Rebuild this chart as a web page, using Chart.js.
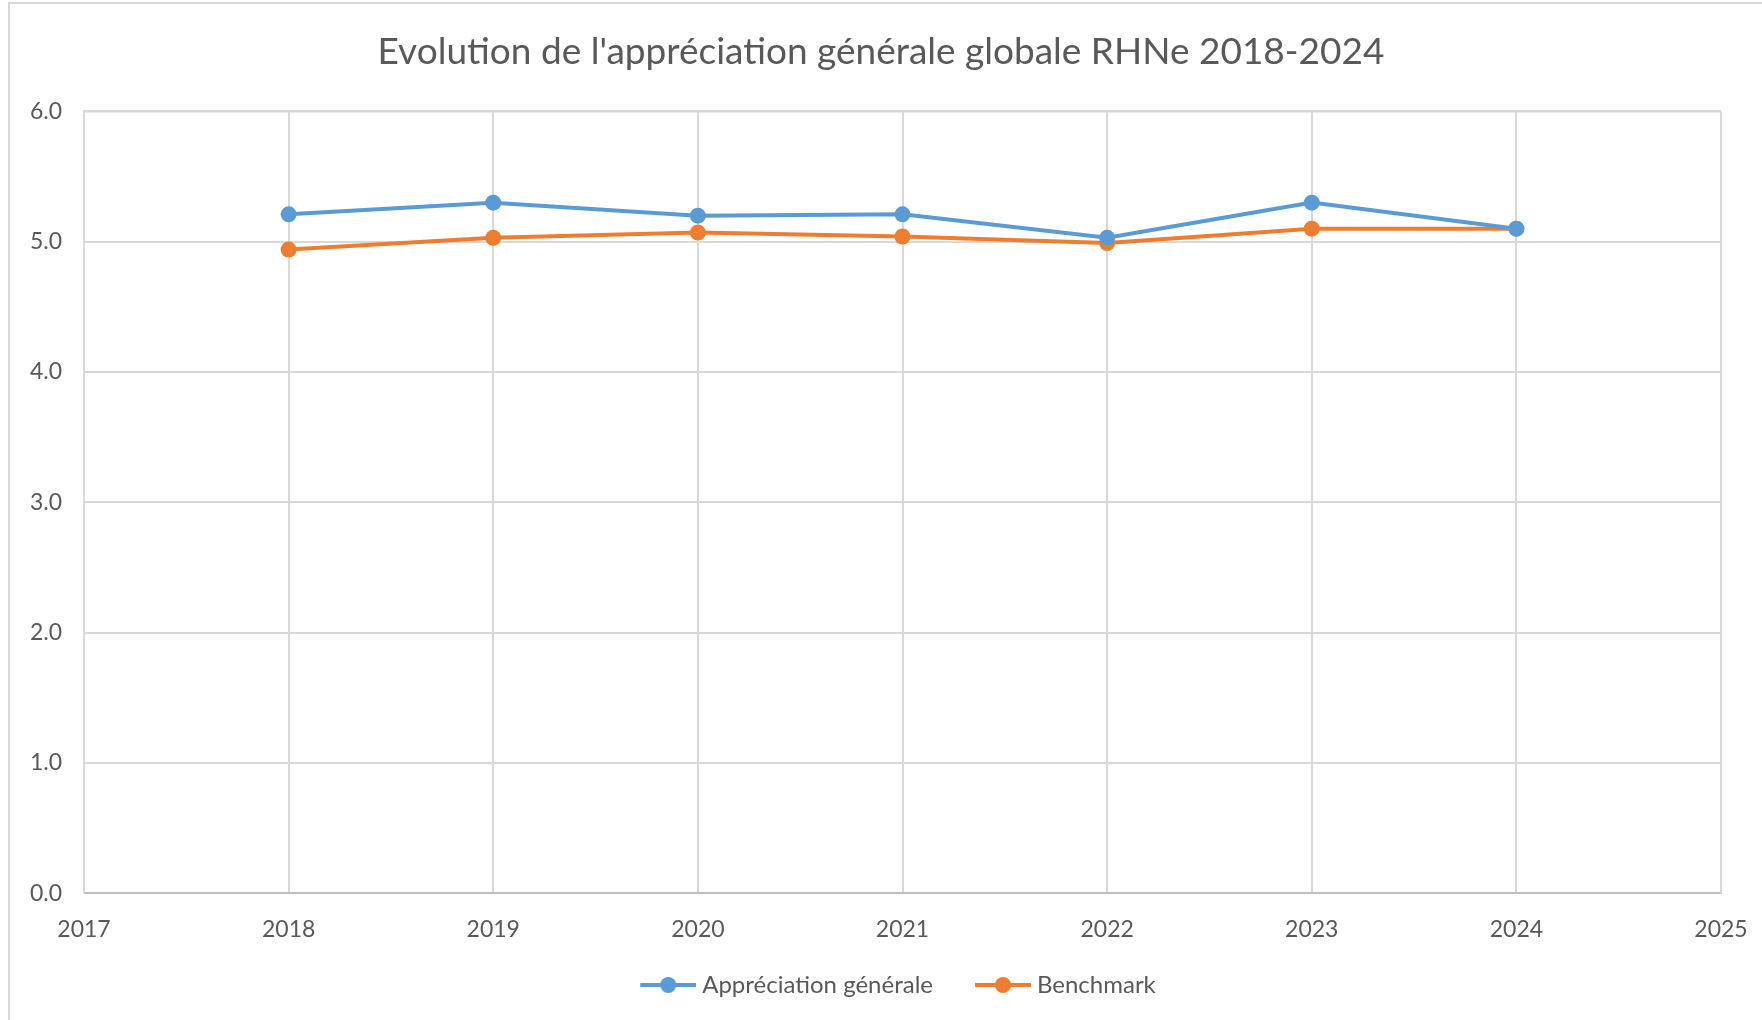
<!DOCTYPE html>
<html>
<head>
<meta charset="utf-8">
<script src="https://cdn.jsdelivr.net/npm/chart.js@4.4.1/dist/chart.umd.min.js"></script>
<style>
  html, body { margin: 0; padding: 0; background: #fff; }
  #frame { position: absolute; left: 0; top: 0; width: 1762px; height: 1020px; }
  #edge { position: absolute; left: 8px; top: 2px; width: 1754px; height: 1018px;
          border-left: 2px solid #d9d9d9; border-top: 2px solid #d9d9d9; box-sizing: border-box; }
  canvas { position: absolute; left: 0; top: 0; }
</style>
</head>
<body>
<div id="frame">
  <div id="edge"></div>
  <canvas id="chart" width="1762" height="1020"></canvas>
</div>
<script>
// Data
const years = [2018, 2019, 2020, 2021, 2022, 2023, 2024];
const appreciation = [5.21, 5.30, 5.20, 5.21, 5.03, 5.30, 5.10];
const benchmark = [4.94, 5.03, 5.07, 5.04, 4.99, 5.10, 5.10];
const seriesNames = ['Appréciation générale', 'Benchmark'];
const seriesColors = ['#5B9BD5', '#ED7D31'];

const fontFamily = 'Lato, "Open Sans", sans-serif';
const textColor = '#595959';
const gridColor = '#d9d9d9';

// legend marker: short line with a dot in the middle, like Excel.
// The image is wider than the marker so the empty left part widens
// the gap between the two legend items.
const markerLen = 56;
const markerBox = 84;
function legendMarker(color) {
  const c = document.createElement('canvas');
  c.width = markerBox + 12; c.height = 18;
  const g = c.getContext('2d');
  const x0 = c.width - markerLen;
  g.strokeStyle = color;
  g.lineWidth = 4;
  g.beginPath(); g.moveTo(x0, 9); g.lineTo(c.width, 9); g.stroke();
  g.fillStyle = color;
  g.beginPath(); g.arc(x0 + markerLen / 2, 9, 8, 0, Math.PI * 2); g.fill();
  return c;
}

function toPoints(values) {
  return years.map((y, i) => ({ x: y, y: values[i] }));
}

const ctx = document.getElementById('chart').getContext('2d');
new Chart(ctx, {
  type: 'line',
  data: {
    datasets: [appreciation, benchmark].map((vals, i) => ({
      label: seriesNames[i],
      data: toPoints(vals),
      borderColor: seriesColors[i],
      backgroundColor: seriesColors[i],
      borderWidth: 4,
      pointRadius: 8,
      pointHoverRadius: 8,
      pointBorderWidth: 0,
      tension: 0,
      fill: false,
    })),
  },
  options: {
    responsive: false,
    animation: false,
    layout: { padding: { left: 0, right: 0, top: 0, bottom: 13 } },
    plugins: {
      title: {
        display: true,
        text: "Evolution de l'appréciation générale globale RHNe 2018-2024",
        color: textColor,
        font: { family: fontFamily, size: 37, weight: 'normal' },
        padding: { top: 30, bottom: 37 },
      },
      legend: {
        display: true,
        position: 'bottom',
        labels: {
          color: textColor,
          font: { family: fontFamily, size: 24 },
          usePointStyle: true,
          pointStyleWidth: markerBox,
          padding: 8,
          generateLabels: (chart) => chart.data.datasets.map((ds, i) => ({
            text: ds.label,
            fontColor: textColor,
            pointStyle: legendMarker(seriesColors[i]),
            datasetIndex: i,
            hidden: false,
            lineWidth: 0,
            strokeStyle: 'transparent',
            fillStyle: seriesColors[i],
          })),
        },
      },
      tooltip: { enabled: false },
    },
    scales: {
      x: {
        type: 'linear',
        min: 2017,
        max: 2025,
        ticks: {
          stepSize: 1,
          color: textColor,
          font: { family: fontFamily, size: 23 },
          padding: 14,
          callback: (v) => String(v),
        },
        // invisible tick marks just push the labels down a bit
        grid: { color: gridColor, lineWidth: 2, drawTicks: true, tickLength: 8, tickColor: 'rgba(0,0,0,0)' },
        border: { color: '#bfbfbf', width: 2 },
        afterFit: (scale) => { scale.height += 8; },
      },
      y: {
        min: 0,
        max: 6,
        ticks: {
          stepSize: 1,
          color: textColor,
          font: { family: fontFamily, size: 23 },
          padding: 22,
          callback: (v) => v.toFixed(1),
        },
        grid: { color: gridColor, lineWidth: 2, drawTicks: false },
        border: { color: gridColor, width: 2 },
        afterFit: (scale) => { scale.width = 84; },
      },
      // empty right margin
      spacer: {
        position: 'right',
        min: 0,
        max: 1,
        ticks: { display: false },
        grid: { display: false },
        border: { display: false },
        afterFit: (scale) => { scale.width = 41; },
      },
    },
  },
  plugins: [{
    id: 'rightEdge',
    afterDraw(chart) {
      const a = chart.chartArea;
      const g = chart.ctx;
      g.save();
      g.strokeStyle = gridColor;
      g.lineWidth = 2;
      g.beginPath();
      g.moveTo(a.left, a.top); g.lineTo(a.right, a.top);
      g.moveTo(a.right, a.top); g.lineTo(a.right, a.bottom);
      g.stroke();
      g.restore();
    },
  }],
});
</script>
</body>
</html>
